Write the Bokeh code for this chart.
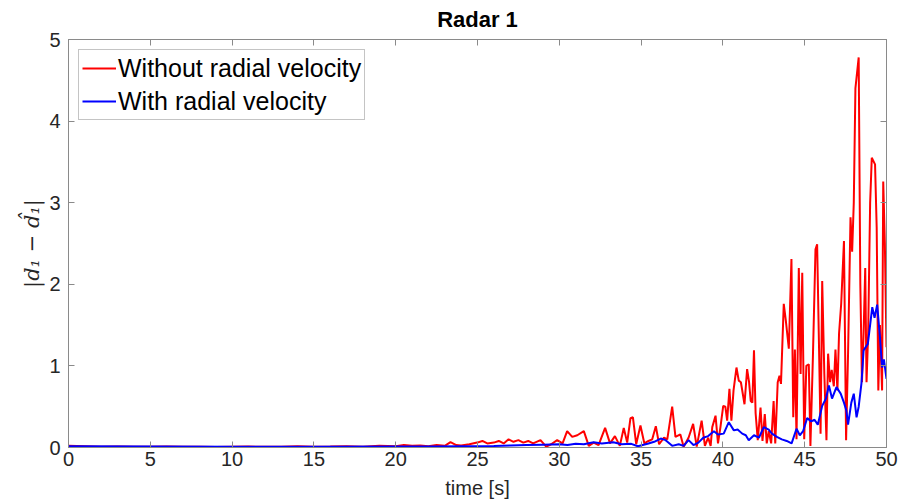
from bokeh.plotting import figure
from bokeh.models import (LinearAxis, SingleIntervalTicker, Range1d, Legend, LegendItem,
                          CustomLabelingPolicy)
from bokeh.embed import file_html
from bokeh.resources import INLINE

# ---- data ----
t_without = [0, 1, 2, 3, 4, 5, 6, 7, 8, 9, 10, 11, 12, 13, 14, 15, 16, 17, 18, 19, 20,
             20.5, 21, 21.5, 22, 22.5, 23, 23.35, 23.7, 24, 24.5, 24.98, 25.3, 25.6, 26, 26.3,
             26.6, 26.9, 27.2, 27.5, 27.8, 28.1, 28.4, 28.85, 29.2, 29.5, 29.87, 30.2, 30.48,
             30.79, 31.1, 31.5, 31.8, 32.1, 32.4, 32.8, 33.1, 33.4, 33.7, 33.94, 34.15, 34.35,
             34.5, 34.7, 34.96, 35.2, 35.45, 35.68, 35.9, 36.1, 36.4, 36.6, 36.9, 37.1, 37.4,
             37.6, 37.9, 38.18, 38.4, 38.7, 38.9, 39.1, 39.25, 39.35, 39.55, 39.7, 39.85, 40.02,
             40.15, 40.26, 40.4, 40.52, 40.65, 40.83, 40.97, 41.1, 41.32, 41.48, 41.6, 41.7,
             41.8, 41.9, 42.0, 42.13, 42.3, 42.42, 42.56, 42.68, 42.8, 42.95, 43.1, 43.2, 43.35,
             43.46, 43.55, 43.72, 43.85, 44.03, 44.19, 44.3, 44.4, 44.5, 44.64, 44.75, 44.85,
             44.97, 45.1, 45.25, 45.35, 45.5, 45.66, 45.76, 45.86, 45.97, 46.07, 46.2, 46.33,
             46.43, 46.55, 46.65, 46.78, 46.88, 47.0, 47.1, 47.23, 47.4, 47.53, 47.65, 47.8,
             47.9, 48.0, 48.1, 48.3, 48.4, 48.5, 48.6, 48.7, 48.78, 48.88, 49.0, 49.1, 49.3,
             49.4, 49.5, 49.6, 49.73, 49.8, 49.9, 50.0]
err_without = [0.02, 0.015, 0.01, 0.012, 0.008, 0.01, 0.012, 0.008, 0.01, 0.006, 0.01, 0.012,
               0.008, 0.01, 0.015, 0.01, 0.012, 0.015, 0.01, 0.02, 0.015,
               0.03, 0.02, 0.025, 0.015, 0.03, 0.02, 0.065, 0.03, 0.025, 0.04, 0.06, 0.08, 0.05,
               0.06, 0.08, 0.05, 0.1, 0.07, 0.09, 0.06, 0.08, 0.05, 0.09, 0.01, 0.04, 0.09, 0.05,
               0.2, 0.13, 0.15, 0.2, 0.02, 0.06, 0.03, 0.24, 0.05, 0.14, 0.02, 0.24, 0.06, 0.36,
               0.37, 0.04, 0.27, 0.05, 0.08, 0.1, 0.26, 0.04, 0.12, 0.1, 0.5, 0.13, 0.16, 0.01,
               0.12, 0.29, 0.01, 0.33, 0.02, 0.12, 0.02, 0.25, 0.39, 0.05, 0.25, 0.51, 0.5, 0.33,
               0.72, 0.33, 0.7, 0.98, 0.82, 0.8, 0.53, 0.96, 0.8, 0.57, 0.55, 1.19, 0.42, 0.09,
               0.49, 0.08, 0.41, 0.05, 0.2, 0.05, 0.57, 0.05, 0.8, 0.88, 0.78, 1.76, 1.55, 1.21,
               2.31, 0.37, 1.2, 0.1, 2.2, 0.9, 2.14, 0.1, 1.0, 1.02, 0.02, 1.1, 2.43, 2.49, 1.4,
               0.17, 2.04, 0.9, 0.09, 1.15, 0.8, 0.95, 0.75, 1.2, 0.7, 1.4, 1.76, 2.53, 0.09,
               1.15, 2.82, 2.4, 3.0, 4.4, 4.78, 2.0, 0.8, 1.4, 2.2, 0.8, 1.4, 3.0, 3.55, 3.47,
               2.7, 0.7, 1.5, 0.7, 3.26, 2.5, 1.23]

t_with = [0, 5, 10, 15, 20, 22, 24, 26, 27, 28, 29, 30, 30.5, 31, 31.5, 32.1, 32.6, 33.3,
          33.8, 34.4, 34.8, 35.4, 35.8, 36.2, 36.5, 36.9, 37.3, 37.6, 37.9, 38.2, 38.5, 38.8,
          39.1, 39.45, 39.7, 40.05, 40.36, 40.67, 40.9, 41.18, 41.4, 41.58, 41.9, 42.2, 42.5,
          42.8, 43.0, 43.3, 43.6, 43.9, 44.2, 44.5, 44.7, 44.9, 45.15, 45.4, 45.6, 45.8, 46.07,
          46.3, 46.48, 46.67, 46.94, 47.2, 47.4, 47.55, 47.65, 47.85, 48.0, 48.17, 48.3, 48.47,
          48.6, 48.86, 49.13, 49.27, 49.43, 49.6, 49.73, 49.84, 50.0]
err_with = [0.015, 0.012, 0.01, 0.01, 0.012, 0.012, 0.015, 0.018, 0.025, 0.03, 0.035, 0.04,
            0.03, 0.045, 0.04, 0.065, 0.05, 0.065, 0.04, 0.045, 0.015, 0.045, 0.07, 0.11, 0.09,
            0.02, 0.04, 0.02, 0.09, 0.03, 0.06, 0.12, 0.14, 0.2, 0.16, 0.17, 0.31, 0.21, 0.22,
            0.17, 0.15, 0.09, 0.15, 0.12, 0.25, 0.22, 0.17, 0.13, 0.1, 0.08, 0.05, 0.23, 0.15,
            0.2, 0.36, 0.32, 0.34, 0.28, 0.51, 0.6, 0.76, 0.6, 0.74, 0.66, 0.55, 0.45, 0.28,
            0.55, 0.66, 0.37, 0.5, 0.79, 1.19, 1.27, 1.72, 1.59, 1.75, 1.35, 0.98, 1.08, 0.84]

x_ticks_step = 5
y_ticks_step = 1

FONT = "Liberation Sans"
TXT = "#262626"
AX = "#8a8a8a"

p = figure(width=899, height=504, output_backend="svg", toolbar_location=None,
           x_range=Range1d(0, 50), y_range=Range1d(0, 5),
           min_border_left=68, min_border_right=13, min_border_top=38, min_border_bottom=57,
           x_axis_label="time [s]", y_axis_label="|d\u2081 \u2212 d\u0302\u2081|")

p.title.text = "Radar 1"
p.title.align = "center"
p.title.text_font = FONT
p.title.text_font_size = "22px"
p.title.text_font_style = "bold"
p.title.text_color = "#000000"
p.title.offset = 0
p.title.standoff = 8

p.grid.visible = False
p.outline_line_color = AX
p.outline_line_width = 1
p.background_fill_color = "white"
p.border_fill_color = "white"

for ax in p.xaxis + p.yaxis:
    ax.major_tick_in = 6
    ax.major_tick_out = 0
    ax.minor_tick_in = 0
    ax.minor_tick_out = 0
    ax.axis_line_color = AX
    ax.major_tick_line_color = AX
    ax.major_label_text_font = FONT
    ax.major_label_text_font_size = "20px"
    ax.major_label_text_color = TXT
    ax.axis_label_text_font = FONT
    ax.axis_label_text_font_size = "20px"
    ax.axis_label_text_color = TXT
    ax.axis_label_text_font_style = "normal"

p.xaxis.ticker = SingleIntervalTicker(interval=x_ticks_step)
p.yaxis.ticker = SingleIntervalTicker(interval=y_ticks_step)
p.xaxis.major_label_standoff = 4
p.xaxis.axis_label_standoff = 8
p.yaxis.major_label_standoff = 8
p.yaxis.axis_label_standoff = 2
p.yaxis.axis_label_text_font = "DejaVu Serif"
p.yaxis.axis_label_text_font_style = "italic"
p.yaxis.axis_label_text_font_size = "21px"

# top and right box ticks (labels hidden by a labeling policy)
hide_all = "const a = [...indices]; for (const i of a) indices.unset(i); return indices"
top = LinearAxis(ticker=SingleIntervalTicker(interval=x_ticks_step), major_tick_in=6,
                 major_tick_out=0, minor_tick_in=0, minor_tick_out=0,
                 major_label_policy=CustomLabelingPolicy(code=hide_all),
                 major_label_standoff=0, major_label_text_font_size="1px",
                 axis_line_color=AX, major_tick_line_color=AX)
right = LinearAxis(ticker=SingleIntervalTicker(interval=y_ticks_step), major_tick_in=6,
                   major_tick_out=0, minor_tick_in=0, minor_tick_out=0,
                   major_label_policy=CustomLabelingPolicy(code=hide_all),
                   major_label_standoff=0, major_label_text_font_size="1px",
                   axis_line_color=AX, major_tick_line_color=AX)
p.add_layout(top, "above")
p.add_layout(right, "right")

r1 = p.line(t_without, err_without, line_color="#ff0000", line_width=2)
r2 = p.line(t_with, err_with, line_color="#0000ff", line_width=2)

legend = Legend(items=[LegendItem(label="Without radial velocity", renderers=[r1]),
                       LegendItem(label="With radial velocity", renderers=[r2])],
                location="top_left")
legend.label_text_font = FONT
legend.label_text_font_size = "25px"
legend.label_text_color = "#000000"
legend.glyph_width = 34
legend.glyph_height = 30
legend.label_height = 30
legend.label_standoff = 2
legend.spacing = 3
legend.padding = 3
legend.margin = 10
legend.border_line_color = AX
legend.border_line_width = 1
legend.background_fill_alpha = 1
p.add_layout(legend)

open("out.html", "w").write(file_html(p, INLINE))
